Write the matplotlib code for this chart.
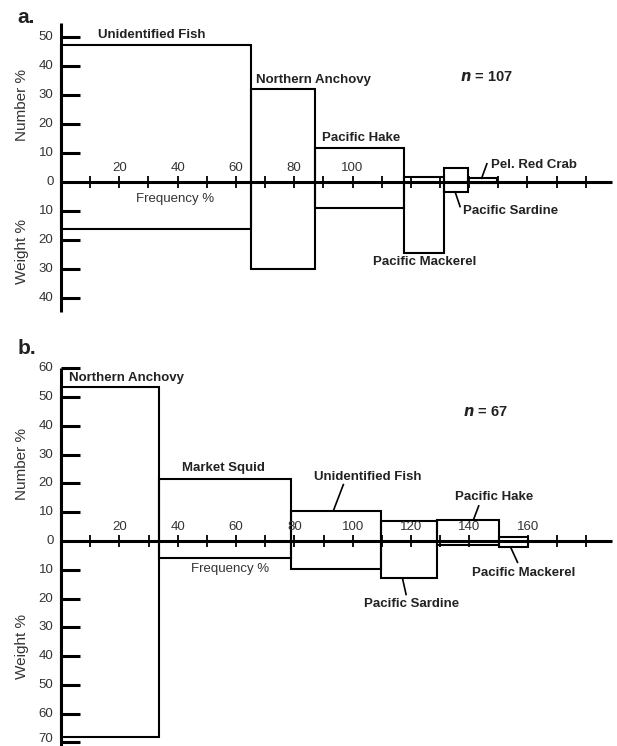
import numpy as np
import matplotlib.pyplot as plt

plt.rcParams['font.family'] = ['Liberation Sans', 'DejaVu Sans']

# Panel a (n = 107)
a_prey = ["Unidentified Fish", "Northern Anchovy", "Pacific Hake",
          "Pacific Mackerel", "Pacific Sardine", "Pel. Red Crab"]
a_freq = [65.1, 22.0, 30.6, 13.8, 8.2, 9.8]
a_number = [47.5, 32.1, 11.7, 1.8, 4.7, 1.3]
a_weight = [16.2, 30.2, 9.1, 24.5, 3.6, 0.4]

# Panel b (n = 67)
b_prey = ["Northern Anchovy", "Market Squid", "Unidentified Fish",
          "Pacific Sardine", "Pacific Hake", "Pacific Mackerel"]
b_freq = [33.7, 45.2, 30.7, 19.2, 21.2, 10.1]
b_number = [53.4, 21.5, 10.4, 7.1, 7.3, 1.5]
b_weight = [68.0, 5.8, 9.8, 12.9, 1.4, 2.0]

# label placement: (text x, text y, ha, leader line or None)
a_labels = [(31.1, 51.0, 'center', None),
            (67.0, 35.3, 'left', None),
            (102.9, 15.1, 'center', None),
            (124.9, -27.8, 'center', None),
            (138.0, -10.0, 'left', ((135.2, -3.4), (136.9, -8.5))),
            (147.4, 6.0, 'left', ((144.3, 1.3), (146.1, 6.3)))]
b_labels = [(2.8, 56.7, 'left', None),
            (55.7, 25.3, 'center', None),
            (105.3, 22.3, 'center', ((93.4, 10.6), (96.8, 19.6))),
            (120.2, -21.8, 'center', ((117.1, -13.1), (118.3, -18.6))),
            (148.6, 15.2, 'center', ((141.4, 7.4), (143.2, 12.2))),
            (158.6, -11.2, 'center', ((154.2, -2.3), (156.5, -7.4)))]

LW_BOX = 1.5
LW_AX = 2.2
TXT = '#333333'


def draw_panel(ax, prey, freq, number, weight, labels, ytop, ybot,
               xlab_max, letter, n, n_pos, freq_pos, num_y, wt_y):
    ax.axis('off')
    freq = np.array(freq)
    number = np.array(number)
    weight = np.array(weight)
    left = np.concatenate([[0], np.cumsum(freq)[:-1]])

    # boxes: number above the axis, weight below
    ax.bar(left, number + weight, width=freq, bottom=-weight, align='edge',
           fill=False, edgecolor='black', linewidth=LW_BOX, zorder=2)

    # axes lines
    ax.plot([0, 189], [0, 0], color='black', lw=LW_AX, zorder=3,
            solid_capstyle='butt')
    ax.plot([0, 0], [ybot, ytop], color='black', lw=LW_AX, zorder=3,
            solid_capstyle='butt')

    # x ticks
    xt = np.arange(10, 181, 10)
    ax.vlines(xt, -2.0, 2.0, color='black', lw=1.3, zorder=3)
    for x in np.arange(20, xlab_max + 1, 20):
        ax.text(x, 4.9, str(x), ha='center', va='center', fontsize=9.5,
                color=TXT)

    # y ticks
    yt = np.arange(10, ytop + 1, 10)
    ax.hlines(yt, 0, 6.5, color='black', lw=LW_AX, zorder=3)
    yb = np.arange(10, -ybot + 1, 10)
    ax.hlines(-yb, 0, 6.5, color='black', lw=LW_AX, zorder=3)
    ymin = ax.get_ylim()[0]
    for y in np.concatenate([yt, [0], -yb]):
        # keep the lowest label inside the figure
        ax.text(-2.6, max(y, ymin + 2.3), str(abs(int(y))), ha='right',
                va='center', fontsize=9.5, color=TXT)

    ax.text(-13.4, num_y, 'Number %', rotation=90, ha='center', va='center',
            fontsize=11, color=TXT)
    ax.text(-13.4, wt_y, 'Weight %', rotation=90, ha='center', va='center',
            fontsize=11, color=TXT)
    ax.text(freq_pos[0], freq_pos[1], 'Frequency %', ha='center',
            va='center', fontsize=9.5, color=TXT)

    # prey names, with leader lines where the box is small
    for name, (tx, ty, ha, lead) in zip(prey, labels):
        ax.text(tx, ty, name, ha=ha, va='center', fontsize=9.5,
                fontweight='bold', color='#222222')
        if lead is not None:
            (x0, y0), (x1, y1) = lead
            ax.plot([x0, x1], [y0, y1], color='black', lw=1.2, zorder=3)

    ax.text(n_pos[0], n_pos[1], r'$\mathbfit{n}$' + ' = ' + str(n),
            ha='center', va='center', fontsize=10.5, fontweight='bold',
            color='#222222')
    ax.text(-15.0, letter[1], letter[0], ha='left', va='center',
            fontsize=15, fontweight='bold', color='#222222')


fig = plt.figure(figsize=(6.17, 7.46), dpi=100)

ax_a = fig.add_axes([0, 1 - 330 / 746, 1, 330 / 746])
ax_a.set_xlim(-61 / 2.915, 556 / 2.915)
ax_a.set_ylim(-148 / 2.89, 182 / 2.89)
draw_panel(ax_a, a_prey, a_freq, a_number, a_weight, a_labels,
           55, -45, 100, ('a.', 57.0), 107, (146, 36.3), (39.1, -5.9),
           26.6, -24.0)

ax_b = fig.add_axes([0, 0, 1, 416 / 746])
ax_b.set_xlim(-61 / 2.917, 556 / 2.917)
ax_b.set_ylim(-205 / 2.878, 211 / 2.878)
draw_panel(ax_b, b_prey, b_freq, b_number, b_weight, b_labels,
           60, -72, 160, ('b.', 67.0), 67, (145.4, 44.9), (58.0, -9.8),
           26.8, -36.8)

fig.savefig('out.png', dpi=100)
